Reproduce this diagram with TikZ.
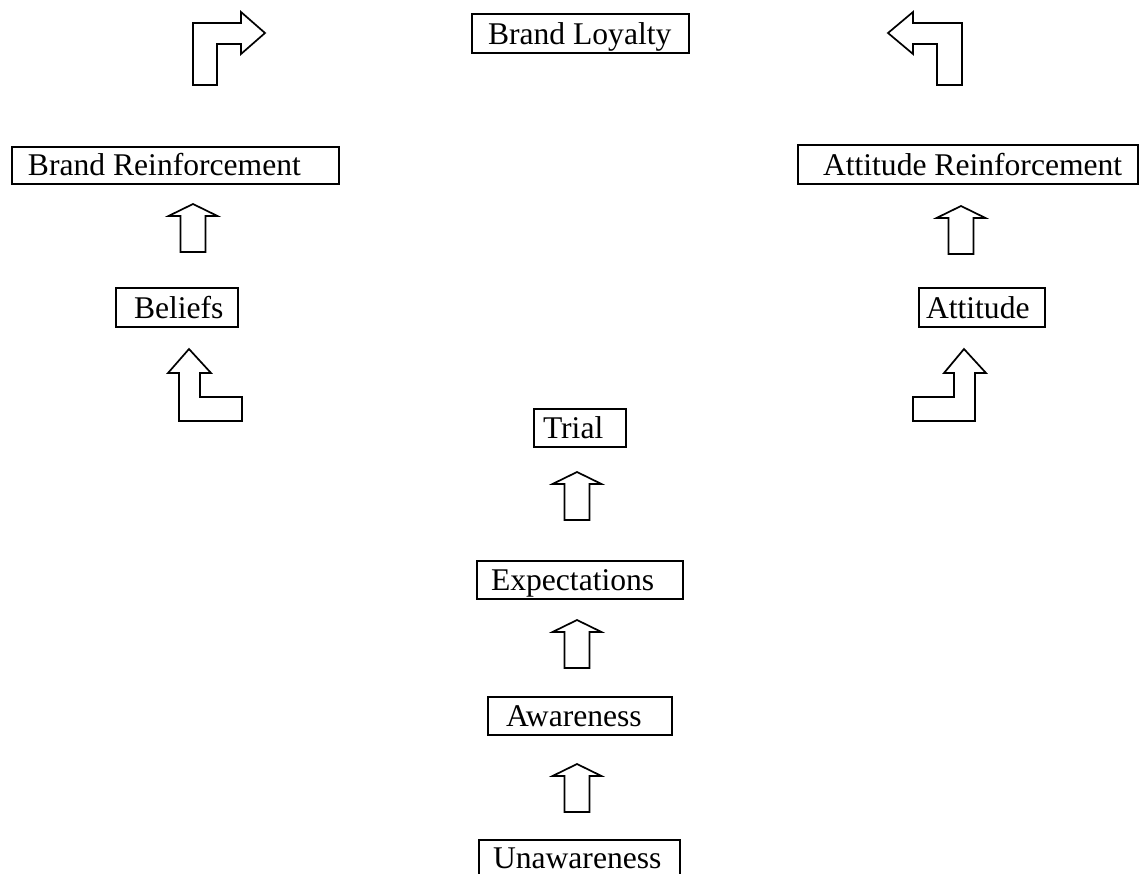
\documentclass[tikz,border=0pt]{standalone}
\usepackage{fontspec}
\setmainfont{Liberation Serif}
\newcommand\padtext[3]{\makebox[#1pt][l]{\hspace*{#2pt}#3}}
\tikzset{
  box/.style={draw, line width=2pt, anchor=north west, inner sep=0pt,
    text depth=9pt, font=\fontsize{31.6}{38}\selectfont},
  blockarrow/.style={draw, line width=1.7pt, line join=miter},
  uparrow/.pic={\draw[blockarrow] (0,0) -- (24.5,12) -- (12.5,12) -- (12.5,48)
      -- (-12.5,48) -- (-12.5,12) -- (-24.5,12) -- cycle;}
}
\begin{document}
\begin{tikzpicture}[x=1pt, y=-1pt]
\clip (0,0) rectangle (1140,873);
\fill[white] (0,0) rectangle (1140,873);
% boxes
\node[box, text height=30pt] (loyalty) at (471,13) {\padtext{217}{16}{Brand Loyalty}};
\node[box, text height=28pt] (brandre) at (11,146) {\padtext{327}{16}{Brand Reinforcement}};
\node[box, text height=30pt] (attre) at (797,144) {\padtext{340}{25}{Attitude Reinforcement}};
\node[box, text height=30pt] (beliefs) at (115,287) {\padtext{122}{18}{Beliefs}};
\node[box, text height=30pt] (attitude) at (918,287) {\padtext{126}{7}{Attitude}};
\node[box, text height=29pt] (trial) at (533,408) {\padtext{92}{9}{Trial}};
\node[box, text height=29pt] (expect) at (476,560) {\padtext{206}{14}{Expectations}};
\node[box, text height=29pt] (aware) at (487,696) {\padtext{184}{18}{Awareness}};
\node[box, text height=28pt, text depth=10pt] (unaware) at (478,839) {\padtext{201}{14}{Unawareness}};
% straight block arrows
\pic at (193,204) {uparrow};
\pic at (961,206) {uparrow};
\pic at (577,472) {uparrow};
\pic at (577,620) {uparrow};
\pic at (577,764) {uparrow};
% bent block arrows
\draw[blockarrow] (193,85) -- (193,23) -- (241,23) -- (241,12) -- (265,33) -- (241,54)
  -- (241,44) -- (217,44) -- (217,85) -- cycle;
\draw[blockarrow] (962,85) -- (962,23) -- (913,23) -- (913,12) -- (888,33) -- (913,54)
  -- (913,44) -- (937,44) -- (937,85) -- cycle;
\draw[blockarrow] (179,421) -- (179,373) -- (168,373) -- (189,349) -- (211,373)
  -- (200,373) -- (200,397) -- (242,397) -- (242,421) -- cycle;
\draw[blockarrow] (975,421) -- (975,373) -- (986,373) -- (964,349) -- (944,373)
  -- (954,373) -- (954,397) -- (913,397) -- (913,421) -- cycle;
\end{tikzpicture}
\end{document}
